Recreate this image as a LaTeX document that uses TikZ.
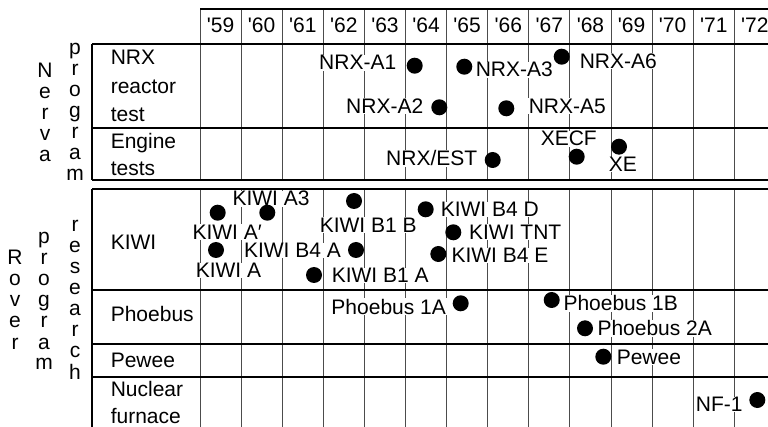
\documentclass[tikz,border=0pt]{standalone}
\usepackage{fontspec}
\setmainfont{Liberation Sans}
\begin{document}
\begin{tikzpicture}[x=1pt,y=-1pt,
  every node/.style={font=\fontsize{21}{25}\selectfont, inner sep=0.6pt},
  lbl/.style={fill=white},
  dotmark/.style={circle, fill=black, draw=none, minimum size=16pt, inner sep=0pt},
  hline/.style={line width=1.1pt, black},
  vline/.style={line width=0.9pt, black!70},
  letter/.style={anchor=base, inner sep=0pt}]
\useasboundingbox (0,0) rectangle (768,427);
% grid
\foreach \k in {0,...,13} {
  \draw[vline] ({200+41.1*\k},9) -- ({200+41.1*\k},180);
  \draw[vline] ({200+41.1*\k},189) -- ({200+41.1*\k},427);
}
\draw[hline] (200,9) -- (768,9);
\foreach \yy in {44,128,180,189,290,344,377} { \draw[hline] (92,\yy) -- (768,\yy); }
\draw[hline] (92,44) -- (92,180);
\draw[hline] (92,189) -- (92,427);
% header
\foreach \yr [count=\i from 0] in {59,...,72} {
  \node[anchor=base] (yr\yr) at ({220.55+41.1*\i},32.3) {\textquotesingle\yr};
}
% vertical words
\foreach \c [count=\i from 0] in {N,e,r,v,a} { \node[letter] (nv\i) at (45,{78+21*\i}) {\c}; }
\foreach \c [count=\i from 0] in {p,r,o,g,r,a,m} { \node[letter] (np\i) at (75,{55+21*\i}) {\c}; }
\foreach \c [count=\i from 0] in {R,o,v,e,r} { \node[letter] (rv\i) at (15,{265+21*\i}) {\c}; }
\foreach \c [count=\i from 0] in {p,r,o,g,r,a,m} { \node[letter] (rp\i) at (44,{244+21*\i}) {\c}; }
\foreach \c [count=\i from 0] in {r,e,s,e,a,r,c,h} { \node[letter] (rr\i) at (75,{232+21*\i}) {\c}; }
% row labels
\node[anchor=base west] (r1a) at (110,65) {NRX};
\node[anchor=base west] (r1b) at (110,93.3) {reactor};
\node[anchor=base west] (r1c) at (110,122) {test};
\node[anchor=base west] (r2a) at (110,148.3) {Engine};
\node[anchor=base west] (r2b) at (110,176) {tests};
\node[anchor=base west] (r3) at (110,249.3) {KIWI};
\node[anchor=base west] (r4) at (110,321.7) {Phoebus};
\node[anchor=base west] (r5) at (110,367.7) {Pewee};
\node[anchor=base west] (r6a) at (110,396.7) {Nuclear};
\node[anchor=base west] (r6b) at (110,423.8) {furnace};
% Nerva events
\node[lbl, anchor=base east] (lA1) at (397,70) {NRX-A1};
\node[lbl, anchor=base west] (lA3) at (475,77) {NRX-A3};
\node[lbl, anchor=base west] (lA6) at (579,68.3) {NRX-A6};
\node[lbl, anchor=base east] (lA2) at (424,113.3) {NRX-A2};
\node[lbl, anchor=base west] (lA5) at (528,113.3) {NRX-A5};
\node[lbl, anchor=base east] (lEST) at (478,165.7) {NRX/EST};
\node[lbl, anchor=base west] (lXECF) at (540,146) {XECF};
\node[lbl, anchor=base west] (lXE) at (608,171.7) {XE};
\node[dotmark] (dA1) at (414.7,65.7) {};
\node[dotmark] (dA3) at (464.3,66.7) {};
\node[dotmark] (dA6) at (561.7,56.7) {};
\node[dotmark] (dA2) at (439.3,107.3) {};
\node[dotmark] (dA5) at (506.3,108.3) {};
\node[dotmark] (dEST) at (492.7,160) {};
\node[dotmark] (dXECF) at (576.7,156.7) {};
\node[dotmark] (dXE) at (619,146.7) {};
% Rover events
\node[lbl, anchor=base west] (lKA3) at (231.7,206) {KIWI A3};
\node[lbl, anchor=base west] (lKAp) at (191.7,239.3) {KIWI A\char"2032};
\node[lbl, anchor=base west] (lKA) at (195,277.7) {KIWI A};
\node[lbl, anchor=base east] (lKB4A) at (341.7,257.7) {KIWI B4 A};
\node[lbl, anchor=base west] (lKB1B) at (319,232.3) {KIWI B1 B};
\node[lbl, anchor=base west] (lKB1A) at (331,282.7) {KIWI B1 A};
\node[lbl, anchor=base west] (lKB4D) at (440,216.7) {KIWI B4 D};
\node[lbl, anchor=base west] (lKTNT) at (468.3,239.3) {KIWI TNT};
\node[lbl, anchor=base west] (lKB4E) at (450.7,262.7) {KIWI B4 E};
\node[lbl, anchor=base east] (lP1A) at (446.7,314.3) {Phoebus 1A};
\node[lbl, anchor=base west] (lP1B) at (562.7,310.7) {Phoebus 1B};
\node[lbl, anchor=base west] (lP2A) at (596.7,335.7) {Phoebus 2A};
\node[lbl, anchor=base west] (lPw) at (616,364.3) {Pewee};
\node[lbl, anchor=base east] (lNF) at (743.3,411.7) {NF-1};
\node[dotmark] (dKA3) at (267.3,212.7) {};
\node[dotmark] (dKAp) at (217.7,212.7) {};
\node[dotmark] (dKA) at (216,250) {};
\node[dotmark] (dKB4A) at (356,250) {};
\node[dotmark] (dKB1B) at (354,201) {};
\node[dotmark] (dKB1A) at (314,275) {};
\node[dotmark] (dKB4D) at (425.7,209.3) {};
\node[dotmark] (dKTNT) at (453.3,232.3) {};
\node[dotmark] (dKB4E) at (438.3,254) {};
\node[dotmark] (dP1A) at (460.7,303.3) {};
\node[dotmark] (dP1B) at (551.7,300) {};
\node[dotmark] (dP2A) at (585,328.3) {};
\node[dotmark] (dPw) at (603.3,356.7) {};
\node[dotmark] (dNF) at (757.3,400) {};
\end{tikzpicture}
\end{document}
